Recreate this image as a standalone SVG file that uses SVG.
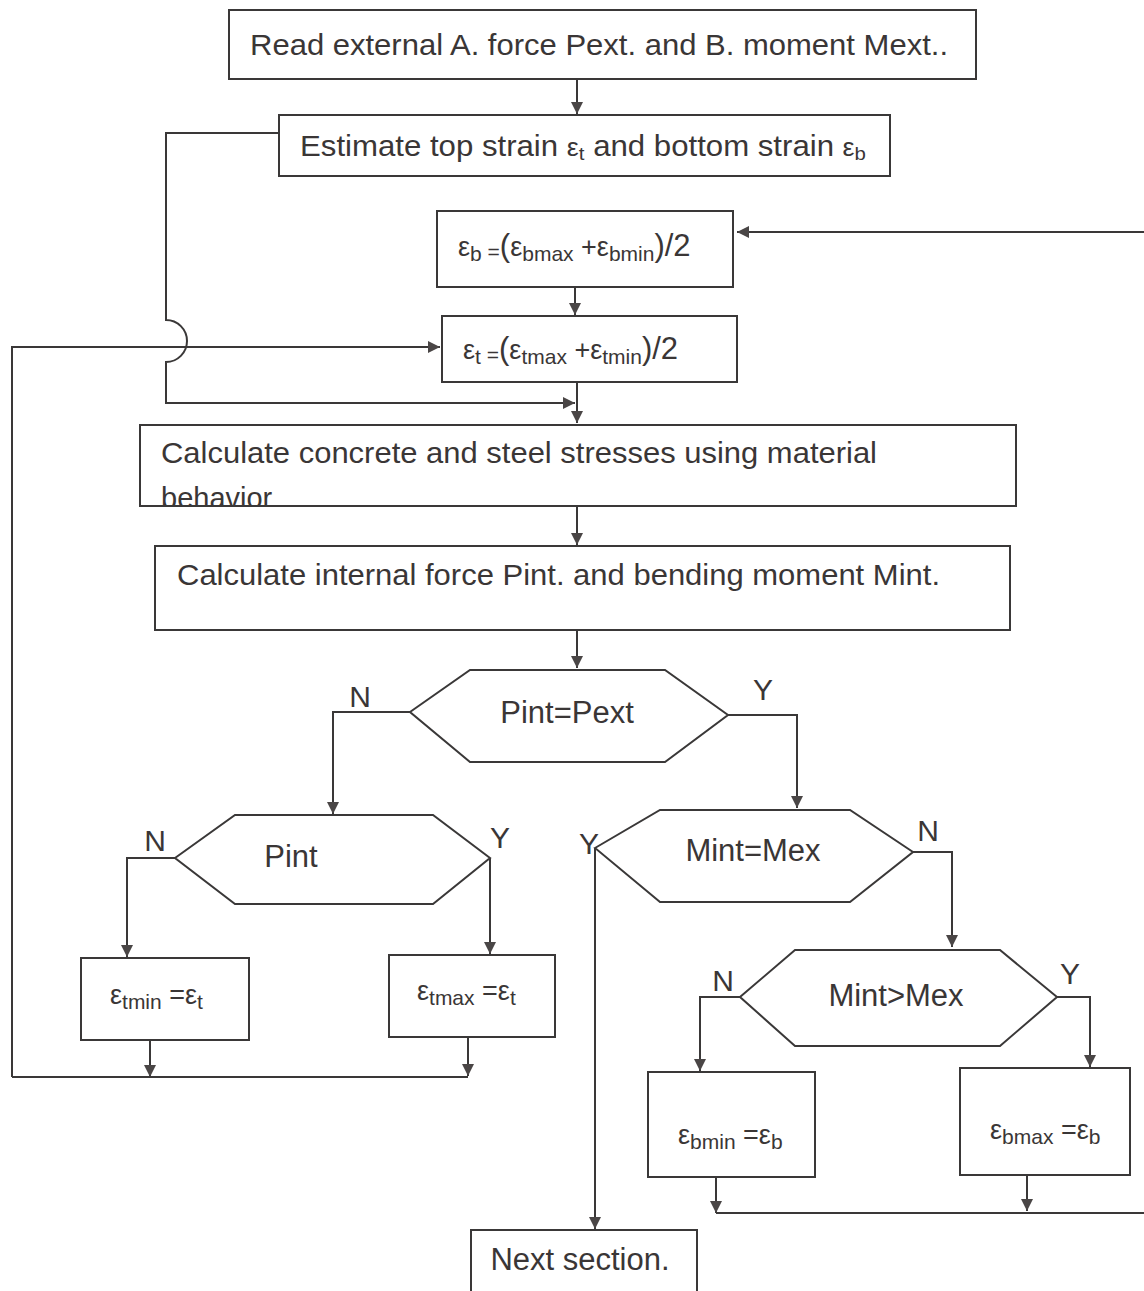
<svg xmlns="http://www.w3.org/2000/svg" width="1144" height="1291" viewBox="0 0 1144 1291">
<defs>
<style>
.box{fill:none;stroke:#3a3838;stroke-width:2}
.ln{fill:none;stroke:#3a3838;stroke-width:2}
.t{font-family:"Liberation Sans",Arial,sans-serif;fill:#3a3636}
.big{font-size:29px}
.lab{font-size:30px}
.dec{font-size:31px}
.f{font-size:27px}
.sub{font-size:21px}
.par{font-size:31px}
</style>
<marker id="ah" viewBox="0 0 10 10" refX="10" refY="5" markerWidth="12" markerHeight="12" markerUnits="userSpaceOnUse" orient="auto">
<path d="M0,0 L10,5 L0,10 z" fill="#4a4646"/>
</marker>
<clipPath id="clipCalc"><rect x="140" y="425" width="876" height="80"/></clipPath>
</defs>
<rect width="1144" height="1291" fill="#ffffff"/>

<g id="connectors">
<path class="ln" d="M577,80 L577,114" marker-end="url(#ah)"/>
<path class="ln" d="M279,133 L166,133 L166,320 A21,21 0 0 1 166,362 L166,403 L575,403" marker-end="url(#ah)"/>
<path class="ln" d="M575,287 L575,315" marker-end="url(#ah)"/>
<path class="ln" d="M12,1077 L12,347 L440,347" marker-end="url(#ah)"/>
<path class="ln" d="M577,382 L577,423" marker-end="url(#ah)"/>
<path class="ln" d="M577,506 L577,545" marker-end="url(#ah)"/>
<path class="ln" d="M577,630 L577,668" marker-end="url(#ah)"/>
<path class="ln" d="M410,712 L333,712 L333,814" marker-end="url(#ah)"/>
<path class="ln" d="M728,715 L797,715 L797,808" marker-end="url(#ah)"/>
<path class="ln" d="M175,858 L127,858 L127,957" marker-end="url(#ah)"/>
<path class="ln" d="M490,858 L490,954" marker-end="url(#ah)"/>
<path class="ln" d="M150,1040 L150,1077" marker-end="url(#ah)"/>
<path class="ln" d="M468,1037 L468,1076" marker-end="url(#ah)"/>
<path class="ln" d="M12,1077 L468,1077"/>
<path class="ln" d="M595,848 L595,1229" marker-end="url(#ah)"/>
<path class="ln" d="M913,852 L952,852 L952,947" marker-end="url(#ah)"/>
<path class="ln" d="M740,997 L700,997 L700,1071" marker-end="url(#ah)"/>
<path class="ln" d="M1057,997 L1090,997 L1090,1067" marker-end="url(#ah)"/>
<path class="ln" d="M716,1177 L716,1213" marker-end="url(#ah)"/>
<path class="ln" d="M1027,1175 L1027,1211" marker-end="url(#ah)"/>
<path class="ln" d="M716,1213 L1144,1213"/>
<path class="ln" d="M1144,232 L737,232" marker-end="url(#ah)"/>
<text class="t lab" x="360" y="707" text-anchor="middle">N</text>
<text class="t lab" x="763" y="700" text-anchor="middle">Y</text>
<text class="t lab" x="155" y="851" text-anchor="middle">N</text>
<text class="t lab" x="500" y="848" text-anchor="middle">Y</text>
<text class="t lab" x="589" y="854" text-anchor="middle">Y</text>
<text class="t lab" x="928" y="841" text-anchor="middle">N</text>
<text class="t lab" x="723" y="991" text-anchor="middle">N</text>
<text class="t lab" x="1070" y="984" text-anchor="middle">Y</text>
</g>

<g id="read">
<rect class="box" x="229" y="10" width="747" height="69"/>
<text class="t big" x="250" y="55" textLength="698" lengthAdjust="spacingAndGlyphs">Read external A. force Pext. and B. moment Mext..</text>
</g>

<g id="estimate">
<rect class="box" x="279" y="115" width="611" height="61"/>
<text class="t big" x="300" y="156" font-size="30px" textLength="566" lengthAdjust="spacingAndGlyphs">Estimate top strain <tspan font-size="25px">ε</tspan><tspan font-size="19px" dy="4">t</tspan><tspan dy="-4"> and bottom strain </tspan><tspan font-size="25px">ε</tspan><tspan font-size="19px" dy="4">b</tspan></text>
</g>

<g id="eb">
<rect class="box" x="437" y="211" width="296" height="76"/>
<text class="t f" x="458" y="256">ε<tspan class="sub" dy="5">b</tspan><tspan class="sub" dy="-2"> =</tspan><tspan class="par" dy="-3">(</tspan>ε<tspan class="sub" dy="5">bmax</tspan><tspan dy="-5"> +</tspan>ε<tspan class="sub" dy="5">bmin</tspan><tspan class="par" dy="-5">)/2</tspan></text>
</g>

<g id="et">
<rect class="box" x="442" y="316" width="295" height="66"/>
<text class="t f" x="463" y="359">ε<tspan class="sub" dy="5">t</tspan><tspan class="sub" dy="-2"> =</tspan><tspan class="par" dy="-3">(</tspan>ε<tspan class="sub" dy="5">tmax</tspan><tspan dy="-5"> +</tspan>ε<tspan class="sub" dy="5">tmin</tspan><tspan class="par" dy="-5">)/2</tspan></text>
</g>

<g id="calc-stress">
<rect class="box" x="140" y="425" width="876" height="81"/>
<text class="t big" x="161" y="463" textLength="716" lengthAdjust="spacingAndGlyphs">Calculate concrete and steel stresses using material</text>
<text class="t big" x="161" y="508" clip-path="url(#clipCalc)">behavior</text>
</g>

<g id="calc-internal">
<rect class="box" x="155" y="546" width="855" height="84"/>
<text class="t big" x="177" y="585" textLength="763" lengthAdjust="spacingAndGlyphs">Calculate internal force Pint. and bending moment Mint.</text>
</g>

<g id="pint-pext">
<polygon class="box" points="410,712 470,670 665,670 728,715 665,762 470,762"/>
<text class="t dec" x="567" y="723" text-anchor="middle">Pint=Pext</text>
</g>

<g id="pint">
<polygon class="box" points="175,858 235,815 433,815 490,858 433,904 235,904"/>
<text class="t dec" x="291" y="867" text-anchor="middle">Pint</text>
</g>

<g id="etmin">
<rect class="box" x="81" y="958" width="168" height="82"/>
<text class="t f" x="110" y="1004">ε<tspan class="sub" dy="5">tmin</tspan><tspan dy="-5"> =</tspan>ε<tspan class="sub" dy="5">t</tspan></text>
</g>

<g id="etmax">
<rect class="box" x="389" y="955" width="166" height="82"/>
<text class="t f" x="417" y="1000">ε<tspan class="sub" dy="5">tmax</tspan><tspan dy="-5"> =</tspan>ε<tspan class="sub" dy="5">t</tspan></text>
</g>

<g id="mint-mex">
<polygon class="box" points="595,848 660,810 850,810 913,852 850,902 660,902"/>
<text class="t dec" x="753" y="861" text-anchor="middle">Mint=Mex</text>
</g>

<g id="mint-gt-mex">
<polygon class="box" points="740,997 795,950 1000,950 1057,997 1000,1046 795,1046"/>
<text class="t dec" x="896" y="1006" text-anchor="middle">Mint&gt;Mex</text>
</g>

<g id="ebmin">
<rect class="box" x="648" y="1072" width="167" height="105"/>
<text class="t f" x="678" y="1144">ε<tspan class="sub" dy="5">bmin</tspan><tspan dy="-5"> =</tspan>ε<tspan class="sub" dy="5">b</tspan></text>
</g>

<g id="ebmax">
<rect class="box" x="960" y="1068" width="170" height="107"/>
<text class="t f" x="990" y="1139">ε<tspan class="sub" dy="5">bmax</tspan><tspan dy="-5"> =</tspan>ε<tspan class="sub" dy="5">b</tspan></text>
</g>

<g id="next">
<rect class="box" x="471" y="1230" width="226" height="70"/>
<text class="t dec" x="580" y="1270" text-anchor="middle">Next section.</text>
</g>
</svg>
